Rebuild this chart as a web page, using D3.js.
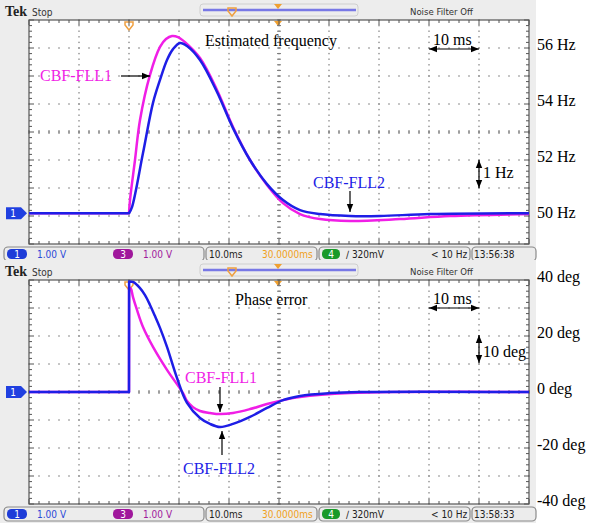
<!DOCTYPE html>
<html lang="en">
<head>
<meta charset="utf-8">
<script src="https://d3js.org/d3.v7.min.js"></script>
<style>
  body { margin: 0; background: #fff; }
  svg { display: block; }
  .serif { font-family: "Liberation Serif", "Times New Roman", serif; }
  .scope { font-family: "Liberation Sans Narrow", "DejaVu Sans Condensed", "Liberation Sans", sans-serif; }
</style>
</head>
<body>
<div id="chart"></div>
<script>
// ---- data ----
const timeTicks = [-20, -10, 0, 10, 20, 30, 40, 50, 60, 70, 80];   // ms, 10 ms/div
const freqTicks = [56, 54, 52, 50];
const phaseTicks = [40, 20, 0, -20, -40];

// estimated frequency (Hz)
const fll1FreqT = [-20, 0, 0.2, 1.2, 2.2, 4.2, 6.2, 7.4, 8.6, 9.8, 11.2, 14.2, 17.6, 20.8, 24.2, 27.6, 30.8, 34.2, 38.2, 44.2, 54.2, 64.2, 80];
const fll1Freq  = [50.1, 50.1, 50.57, 52.0, 53.43, 55.04, 56.04, 56.32, 56.43, 56.39, 56.21, 55.64, 54.5, 53.18, 52.0, 51.11, 50.46, 50.07, 49.89, 49.82, 49.89, 50.0, 50.07];
const fll2FreqT = [-20, 0, 0.6, 2.8, 4.8, 6.2, 7.6, 8.8, 10.2, 11.6, 14.2, 17.6, 20.8, 24.2, 27.6, 30.8, 34.2, 38.2, 44.2, 50.2, 60.2, 80];
const fll2Freq  = [50.1, 50.1, 50.32, 52.25, 54.04, 54.86, 55.57, 55.96, 56.18, 56.07, 55.57, 54.43, 53.14, 52.0, 51.14, 50.57, 50.21, 50.07, 50.0, 50.0, 50.07, 50.1];

// phase error (deg)
const fll1PhaseT = [-20, 0, 0.02, 0.4, 0.8, 1.6, 2.8, 4.8, 7.6, 10.8, 11.6, 12.8, 14.2, 16.2, 18.2, 20.8, 24.2, 27.6, 30.8, 34.2, 44.2, 54.2, 80];
const fll1Phase  = [0, 0, 37.5, 36.8, 33.9, 29.3, 23.2, 16.1, 7.9, -0.4, -3.2, -5.4, -6.8, -7.5, -7.9, -7.5, -6.1, -4.3, -2.9, -1.8, -0.4, 0, 0];
const fll2PhaseT = [-20, 0, 0.02, 0.8, 2.2, 3.2, 4.2, 5.2, 6.2, 7.6, 9.6, 11.6, 14.2, 16.2, 18.2, 20.8, 24.2, 27.6, 30.8, 34.2, 40.2, 46.2, 80];
const fll2Phase  = [0, 0, 39.5, 39.3, 37.1, 34.6, 31.1, 27.1, 22.9, 16.1, 5.0, -3.9, -9.3, -11.4, -12.5, -11.4, -8.9, -5.7, -2.9, -1.4, -0.4, 0, 0];

const W = 592, H = 527;
const PINK = "#f01ee6", BLUE = "#1e1ee6";

const svg = d3.select("#chart").append("svg")
  .attr("width", W).attr("height", H);

const defs = svg.append("defs");
defs.append("marker").attr("id", "ah")
  .attr("viewBox", "0 0 10 10").attr("refX", 10).attr("refY", 5)
  .attr("markerWidth", 7).attr("markerHeight", 7).attr("orient", "auto-start-reverse")
  .append("path").attr("d", "M0,1 L10,5 L0,9 Z").attr("fill", "#000");

const x = d3.scaleLinear().domain([-20, 80]).range([29, 529]);
const zip = (t, v) => t.map((d, i) => [d, v[i]]);

function drawPanel(oy, cfg) {
  const g = svg.append("g").attr("transform", "translate(0," + oy + ")");
  const y = cfg.y;
  const [x0, x1] = x.range();
  const [y1, y0] = y.range();

  // scope frame background
  g.append("rect").attr("x", 0).attr("y", 0).attr("width", 536).attr("height", 263).attr("fill", "#ededed");
  g.append("rect").attr("x", x0).attr("y", y0).attr("width", x1 - x0).attr("height", y1 - y0).attr("fill", "#fff");

  // Tek header
  g.append("text").attr("class", "serif").attr("x", 5).attr("y", 16)
    .attr("font-size", 14).attr("font-weight", "bold").attr("fill", "#222").text("Tek");
  g.append("text").attr("class", "scope").attr("x", 32).attr("y", 16)
    .attr("font-size", 10).attr("fill", "#333").text("Stop");
  g.append("rect").attr("x", 200).attr("y", 4).attr("width", 158).attr("height", 12).attr("rx", 3)
    .attr("fill", "none").attr("stroke", "#cfcfcf");
  g.append("line").attr("x1", 203).attr("x2", 356).attr("y1", 10).attr("y2", 10)
    .attr("stroke", "#7878e6").attr("stroke-width", 2.5);
  g.append("path").attr("d", "M228,8 h8 v3 l-4,5 l-4,-5 Z").attr("fill", "none").attr("stroke", "#f0a040").attr("stroke-width", 1.5);
  g.append("path").attr("d", "M274,4 h8 l-4,5 Z").attr("fill", "#f0a030");
  g.append("text").attr("class", "scope").attr("x", 410).attr("y", 15)
    .attr("font-size", 9.5).attr("fill", "#333").text("Noise Filter Off");

  // markers on plot top edge
  g.append("path").attr("d", "M274," + (y0 + 1) + " h8 l-4,5 Z").attr("fill", "#f0a030");
  g.append("path").attr("d", "M" + (x(0) - 4) + "," + (y0 + 2) + " h8 v3 l-4,5 l-4,-5 Z")
    .attr("fill", "#fff").attr("stroke", "#f0a040").attr("stroke-width", 1.5);

  // dotted grid
  const minorX = d3.range(-20, 80.01, 2);
  const minorY = d3.range(cfg.domain[0], cfg.domain[1] + 1e-6, cfg.minor);
  const grid = g.append("g").attr("fill", "#8c8c8c");
  timeTicks.slice(1, -1).forEach(t => {
    minorY.forEach(v => grid.append("rect").attr("x", x(t) - 0.7).attr("y", y(v) - 0.7).attr("width", 1.4).attr("height", 1.4));
  });
  cfg.major.slice(1, -1).forEach(v => {
    minorX.forEach(t => grid.append("rect").attr("x", x(t) - 0.7).attr("y", y(v) - 0.7).attr("width", 1.4).attr("height", 1.4));
  });
  // centre cross ticks
  minorY.forEach(v => g.append("line").attr("x1", x(30) - 2).attr("x2", x(30) + 2).attr("y1", y(v)).attr("y2", y(v)).attr("stroke", "#777"));
  minorX.forEach(t => g.append("line").attr("x1", x(t)).attr("x2", x(t)).attr("y1", y(cfg.center) - 2).attr("y2", y(cfg.center) + 2).attr("stroke", "#777"));

  // border with inward ticks
  g.append("rect").attr("x", x0).attr("y", y0).attr("width", x1 - x0).attr("height", y1 - y0)
    .attr("fill", "none").attr("stroke", "#555").attr("stroke-width", 1.2);
  minorX.forEach((t, i) => {
    const L = i % 5 === 0 ? 5 : 3;
    g.append("line").attr("x1", x(t)).attr("x2", x(t)).attr("y1", y0).attr("y2", y0 + L).attr("stroke", "#555");
    g.append("line").attr("x1", x(t)).attr("x2", x(t)).attr("y1", y1).attr("y2", y1 - L).attr("stroke", "#555");
  });
  minorY.forEach((v, i) => {
    const L = i % 5 === 0 ? 5 : 3;
    g.append("line").attr("x1", x0).attr("x2", x0 + L).attr("y1", y(v)).attr("y2", y(v)).attr("stroke", "#555");
    g.append("line").attr("x1", x1).attr("x2", x1 - L).attr("y1", y(v)).attr("y2", y(v)).attr("stroke", "#555");
  });

  // channel 1 ground marker
  const my = y(cfg.zero);
  g.append("path").attr("d", `M6,${my - 6} h15 l6,6 l-6,6 h-15 Z`).attr("fill", "#2040e0");
  g.append("text").attr("class", "scope").attr("x", 13).attr("y", my + 4).attr("text-anchor", "middle")
    .attr("font-size", 10).attr("fill", "#fff").text("1");

  // traces: straight up to the step, smooth after it
  const straight = d3.line().x(d => x(d[0])).y(d => y(d[1]));
  const smooth = d3.line().x(d => x(d[0])).y(d => y(d[1])).curve(d3.curveCatmullRom.alpha(0.5));
  cfg.series.forEach(s => {
    const pre = s.data.filter(d => d[0] <= cfg.knee);
    const post = s.data.filter(d => d[0] >= cfg.knee);
    const d = straight(pre) + smooth(post).replace(/^M/, "L");
    g.append("path").attr("d", d).attr("fill", "none")
      .attr("stroke", s.color).attr("stroke-width", 2.5).attr("stroke-linejoin", "round");
  });

  // status bar
  const sb = g.append("g").attr("class", "scope").attr("font-size", 10);
  const box = (bx, bw) => sb.append("rect").attr("x", bx).attr("y", 247).attr("width", bw).attr("height", 14)
    .attr("rx", 4).attr("fill", "#ececec").attr("stroke", "#8a8a8a").attr("stroke-width", 1.2);
  const badge = (bx, bw, col, label) => {
    sb.append("rect").attr("x", bx).attr("y", 249).attr("width", bw).attr("height", 10).attr("rx", 4.5).attr("fill", col);
    sb.append("text").attr("x", bx + bw / 2).attr("y", 258).attr("text-anchor", "middle").attr("fill", "#fff").text(label);
  };
  const txt = (tx, col, s) => sb.append("text").attr("x", tx).attr("y", 258).attr("fill", col).text(s);
  box(4, 200); box(206, 111); box(319, 151); box(472, 64);
  badge(7, 20, "#1e3cd8", "1"); txt(37, "#2a48d8", "1.00 V");
  badge(113, 20, "#a0189c", "3"); txt(143, "#a0189c", "1.00 V");
  txt(209, "#222", "10.0ms"); txt(262, "#f0a020", "30.0000ms");
  badge(322, 18, "#1a9a2a", "4"); txt(346, "#222", "\u2215 320mV"); txt(431, "#222", "< 10 Hz");
  txt(474, "#222", cfg.clock);

  // right-hand value labels
  cfg.labels.forEach(v => {
    g.append("text").attr("class", "serif").attr("x", 537).attr("y", y(v) - 2)
      .attr("dominant-baseline", "middle").attr("font-size", 16).attr("fill", "#000")
      .text(v + cfg.unit);
  });
  return g;
}

function note(g, tx, ty, s, col, size) {
  g.append("text").attr("class", "serif").attr("x", tx).attr("y", ty)
    .attr("font-size", size || 16).attr("fill", col || "#000").text(s);
}
function arrow(g, ax1, ay1, ax2, ay2, both) {
  const l = g.append("line").attr("x1", ax1).attr("y1", ay1).attr("x2", ax2).attr("y2", ay2)
    .attr("stroke", "#000").attr("stroke-width", 1.2).attr("marker-end", "url(#ah)");
  if (both) l.attr("marker-start", "url(#ah)");
}

// ---- top: estimated frequency ----
const yF = d3.scaleLinear().domain([49, 57]).range([244, 20]);
const freqPanel = drawPanel(0, {
  y: yF, domain: [49, 57], minor: 0.2, major: d3.range(49, 57.01, 1), center: 53, zero: 50.1, knee: 0,
  labels: freqTicks, unit: " Hz", clock: "13:56:38",
  series: [
    { color: PINK, data: zip(fll1FreqT, fll1Freq) },
    { color: BLUE, data: zip(fll2FreqT, fll2Freq) }
  ]
});
note(freqPanel, 205, 46, "Estimated frequency");
note(freqPanel, 433, 45, "10 ms");
arrow(freqPanel, 429, 49, 479, 49, true);
arrow(freqPanel, 479, 160, 479, 188, true);
note(freqPanel, 483, 178, "1 Hz");
note(freqPanel, 40, 81, "CBF-FLL1", PINK);
arrow(freqPanel, 121, 76, 150, 76);
note(freqPanel, 313, 188, "CBF-FLL2", BLUE);
arrow(freqPanel, 350, 191, 350, 212);

// ---- bottom: phase error ----
const yP = d3.scaleLinear().domain([-40, 40]).range([244, 20]);
const phasePanel = drawPanel(260, {
  y: yP, domain: [-40, 40], minor: 2, major: d3.range(-40, 40.01, 10), center: 0, zero: 0, knee: 0.02,
  labels: phaseTicks, unit: " deg", clock: "13:58:33",
  series: [
    { color: PINK, data: zip(fll1PhaseT, fll1Phase) },
    { color: BLUE, data: zip(fll2PhaseT, fll2Phase) }
  ]
});
note(phasePanel, 235, 45, "Phase error");
note(phasePanel, 433, 44, "10 ms");
arrow(phasePanel, 429, 48, 479, 48, true);
arrow(phasePanel, 479, 75, 479, 103, true);
note(phasePanel, 483, 97, "10 deg");
note(phasePanel, 185, 123, "CBF-FLL1", PINK);
arrow(phasePanel, 220, 127, 220, 152);
note(phasePanel, 183, 214, "CBF-FLL2", BLUE);
arrow(phasePanel, 222, 195, 222, 171);
</script>
</body>
</html>
